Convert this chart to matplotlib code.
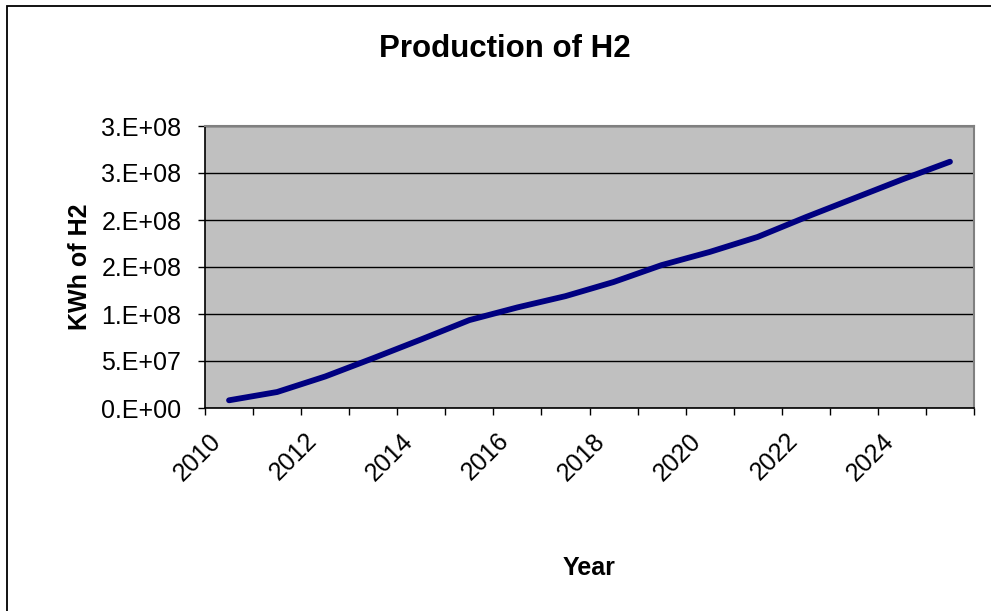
import matplotlib
matplotlib.use("Agg")
import matplotlib.pyplot as plt
from matplotlib.patches import Rectangle
from matplotlib.transforms import ScaledTranslation

plt.rcParams['font.family'] = ['Liberation Sans', 'DejaVu Sans']

years = list(range(2010, 2026))
production = [8.2e6, 1.7e7, 3.35e7, 5.3e7, 7.3e7, 9.35e7, 1.07e8, 1.19e8,
              1.34e8, 1.52e8, 1.66e8, 1.82e8, 2.03e8, 2.23e8, 2.43e8, 2.62e8]
ytick_values = [0, 5e7, 1e8, 1.5e8, 2e8, 2.5e8, 3e8]
ytick_labels = ['0.E+00', '5.E+07', '1.E+08', '2.E+08', '2.E+08', '3.E+08', '3.E+08']
xtick_labels = [str(y) for y in years[::2]]

W, H = 991, 611
fig = plt.figure(figsize=(W / 100, H / 100), dpi=100)
fig.patch.set_facecolor('white')

# chart area border
fig.patches.append(Rectangle((7 / W, -0.1), 1.2, 1 - 6 / H + 0.1,
                             transform=fig.transFigure, fill=False,
                             lw=1.3, ec='black'))

left, right, top, bottom = 205, 974, 126, 408
ax = fig.add_axes([left / W, 1 - bottom / H, (right - left) / W, (bottom - top) / H])
ax.set_facecolor('#C0C0C0')

x = list(range(len(years)))
ax.plot(x, production, color='#000080', lw=4.2, solid_capstyle='round',
        solid_joinstyle='round', zorder=3)

ax.set_xlim(-0.5, len(years) - 0.5)
ax.set_ylim(0, 3e8)

ax.set_yticks(ytick_values)
ax.set_yticklabels(ytick_labels)
ax.yaxis.grid(True, color='black', lw=1.0)
ax.set_axisbelow(True)
ax.tick_params(axis='y', length=5, width=1, pad=12, labelsize=18, direction='out')

# category boundaries as major ticks, labels on every other category
ax.set_xticks([i - 0.5 for i in range(len(years) + 1)])
ax.set_xticklabels([])
ax.set_xticks(x[::2], minor=True)
ax.set_xticklabels(xtick_labels, minor=True, rotation=45, ha='right',
                   va='center', rotation_mode='anchor', fontsize=18)
ax.tick_params(axis='x', which='major', length=5, width=1, direction='out')
ax.tick_params(axis='x', which='minor', length=0, pad=21)
off = ScaledTranslation(-12 / 100, 0, fig.dpi_scale_trans)
for lab in ax.get_xticklabels(minor=True):
    lab.set_transform(lab.get_transform() + off)

for s in ['top', 'right']:
    ax.spines[s].set_color('#808080')
    ax.spines[s].set_linewidth(1.5)
for s in ['left', 'bottom']:
    ax.spines[s].set_color('black')
    ax.spines[s].set_linewidth(1.2)

fig.text(505 / W, 1 - 57 / H, 'Production of H2', ha='center', va='baseline',
         fontsize=22.5, fontweight='bold')
fig.text(80 / W, 1 - 267 / H, 'KWh of H2', ha='center', va='center',
         rotation=90, fontsize=18, fontweight='bold')
fig.text(589.5 / W, 1 - 575 / H, 'Year', ha='center', va='baseline',
         fontsize=18, fontweight='bold')

fig.savefig('out.png', dpi=100)
